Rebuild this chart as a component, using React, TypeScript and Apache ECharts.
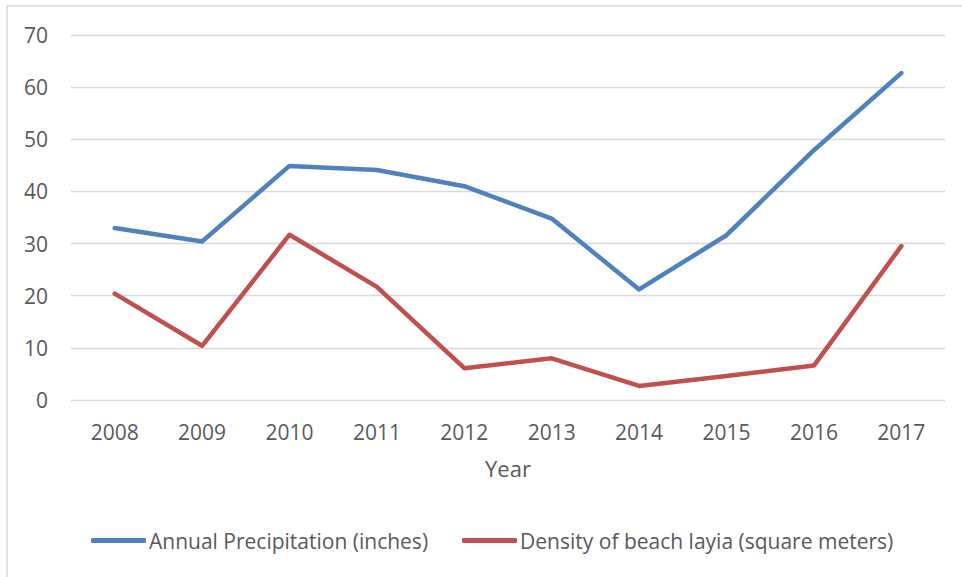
import React, { useEffect, useRef } from "react";
import * as echarts from "echarts";

const years = ["2008", "2009", "2010", "2011", "2012", "2013", "2014", "2015", "2016", "2017"];
const precipitation = [33.0, 30.4, 44.9, 44.1, 41.0, 34.8, 21.2, 31.6, 47.9, 62.7];
const density = [20.4, 10.4, 31.7, 21.7, 6.1, 8.0, 2.7, 4.6, 6.6, 29.5];
const seriesNames = ["Annual Precipitation (inches)", "Density of beach layia (square meters)"];

const FONT = "'Open Sans', 'Liberation Sans', sans-serif";
const TEXT = "#595959";

export default function App() {
  const ref = useRef<HTMLDivElement>(null);
  useEffect(() => {
    if (!ref.current) return;
    const chart = echarts.init(ref.current, undefined, { renderer: "svg" });
    chart.setOption({
      animation: false,
      backgroundColor: "#ffffff",
      textStyle: { fontFamily: FONT },
      graphic: [
        {
          type: "rect",
          shape: { x: 7, y: 6, width: 1000, height: 1000 },
          style: { fill: "none", stroke: "#D9D9D9", lineWidth: 1.5 },
          silent: true,
        },
      ],
      grid: { left: 71, right: 17, top: 35, bottom: 177, containLabel: false },
      legend: {
        left: 86,
        top: 525,
        itemGap: 34,
        itemWidth: 55,
        itemHeight: 5,
        icon: "roundRect",
        textStyle: { color: TEXT, fontSize: 21, fontFamily: FONT, padding: [0, 0, 0, -2] },
        data: seriesNames,
      },
      xAxis: {
        type: "category",
        data: years,
        boundaryGap: true,
        axisLine: { show: false },
        axisTick: { show: false },
        axisLabel: { color: TEXT, fontSize: 21, margin: 21, fontFamily: FONT },
        name: "Year",
        nameLocation: "middle",
        nameGap: 57,
        nameTextStyle: { color: TEXT, fontSize: 22, fontFamily: FONT },
      },
      yAxis: {
        type: "value",
        min: 0,
        max: 70,
        interval: 10,
        axisLine: { show: false },
        axisTick: { show: false },
        axisLabel: { color: TEXT, fontSize: 21, margin: 23, fontFamily: FONT },
        splitLine: { lineStyle: { color: "#D9D9D9", width: 1.3 } },
      },
      series: [
        {
          name: seriesNames[0],
          type: "line",
          data: precipitation,
          symbol: "none",
          color: "#4F81BD",
          lineStyle: { width: 4.5, color: "#4F81BD", cap: "round", join: "round" },
        },
        {
          name: seriesNames[1],
          type: "line",
          data: density,
          symbol: "none",
          color: "#C0504D",
          lineStyle: { width: 4.5, color: "#C0504D", cap: "round", join: "round" },
        },
      ],
    });
    return () => chart.dispose();
  }, []);
  return (
    <div
      ref={ref}
      style={{ position: "fixed", left: 0, top: 0, width: 962, height: 577 }}
    />
  );
}
